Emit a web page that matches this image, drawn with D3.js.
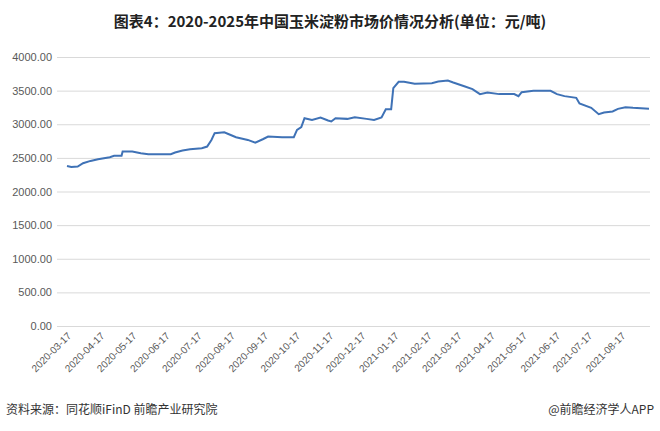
<!DOCTYPE html>
<html><head><meta charset="utf-8">
<script src="https://cdn.jsdelivr.net/npm/d3@7"></script>
<style>body{margin:0;background:#fff}</style></head>
<body><svg id="c" width="660" height="431"></svg>
<script>
const dates=["2020-03-17","2020-03-21","2020-03-27","2020-04-01","2020-04-08","2020-04-15","2020-04-26","2020-04-30","2020-05-07","2020-05-08","2020-05-17","2020-05-25","2020-06-01","2020-06-11","2020-06-22","2020-06-26","2020-07-03","2020-07-10","2020-07-21","2020-07-26","2020-07-30","2020-08-02","2020-08-11","2020-08-17","2020-08-22","2020-09-02","2020-09-09","2020-09-16","2020-09-21","2020-10-04","2020-10-15","2020-10-18","2020-10-22","2020-10-25","2020-11-01","2020-11-09","2020-11-16","2020-11-19","2020-11-23","2020-12-04","2020-12-11","2020-12-22","2020-12-29","2021-01-05","2021-01-09","2021-01-14","2021-01-16","2021-01-21","2021-01-26","2021-02-05","2021-02-21","2021-02-27","2021-03-08","2021-03-13","2021-03-24","2021-03-31","2021-04-07","2021-04-14","2021-04-25","2021-05-09","2021-05-13","2021-05-16","2021-05-27","2021-06-12","2021-06-18","2021-06-25","2021-07-06","2021-07-09","2021-07-20","2021-07-27","2021-08-01","2021-08-09","2021-08-14","2021-08-21","2021-08-28","2021-09-12"];
const values=[2380,2365,2370,2420,2455,2480,2510,2530,2530,2594,2594,2570,2555,2555,2555,2580,2610,2628,2643,2668,2767,2867,2880,2840,2807,2767,2727,2777,2817,2807,2807,2916,2956,3090,3065,3100,3055,3041,3090,3080,3105,3080,3065,3100,3224,3224,3537,3631,3631,3601,3611,3636,3651,3621,3562,3522,3448,3472,3448,3448,3418,3477,3497,3497,3448,3418,3393,3309,3244,3150,3175,3190,3229,3254,3244,3229];
const yTicks=[0,500,1000,1500,2000,2500,3000,3500,4000];
const xTickLabels=["2020-03-17","2020-04-17","2020-05-17","2020-06-17","2020-07-17","2020-08-17","2020-09-17","2020-10-17","2020-11-17","2020-12-17","2021-01-17","2021-02-17","2021-03-17","2021-04-17","2021-05-17","2021-06-17","2021-07-17","2021-08-17"];
const P=d3.timeParse("%Y-%m-%d");
const svg=d3.select("#c");
const F="'Microsoft YaHei','Noto Sans CJK SC',sans-serif";
const x=d3.scaleTime().domain([P("2020-03-17"),P("2021-09-12")]).range([67,649]);
const y=d3.scaleLinear().domain([0,4000]).range([326,57]);
svg.append("text").attr("x",330).attr("y",27).attr("text-anchor","middle").attr("font-family",F).attr("font-weight","bold").attr("font-size",15).attr("fill","#222").text("图表4：2020-2025年中国玉米淀粉市场价情况分析(单位：元/吨)");
const gy=svg.append("g").attr("transform","translate(57,0)").call(d3.axisLeft(y).tickValues(yTicks).tickSize(-593).tickFormat(d3.format(".2f")));
gy.select(".domain").remove();
gy.selectAll("line").attr("stroke","#d9d9d9");
gy.selectAll("text").attr("x",-5).attr("font-family","Arial,'Liberation Sans',sans-serif").attr("font-size",11).attr("fill","#595959");
const gx=svg.append("g").attr("transform","translate(0,326)").call(d3.axisBottom(x).tickValues(xTickLabels.map(P)).tickSize(0).tickFormat(d3.timeFormat("%Y-%m-%d")));
gx.select(".domain").remove();
gx.selectAll("text").attr("font-family","Arial,'Liberation Sans',sans-serif").attr("font-size",10).attr("fill","#595959").attr("text-anchor","end").attr("transform","translate(2,8) rotate(-45)").attr("dy","0.35em").attr("y",0).attr("x",0);
const line=d3.line().x((d,i)=>x(P(dates[i]))).y(d=>y(d));
svg.append("path").datum(values).attr("d",line).attr("fill","none").attr("stroke","#3f72b6").attr("stroke-width",2);
svg.append("text").attr("x",6).attr("y",414).attr("font-family",F).attr("font-size",12).attr("fill","#333").text("资料来源：同花顺iFinD 前瞻产业研究院");
svg.append("text").attr("x",654).attr("y",414).attr("text-anchor","end").attr("font-family",F).attr("font-size",12).attr("fill","#333").text("@前瞻经济学人APP");
</script></body></html>
